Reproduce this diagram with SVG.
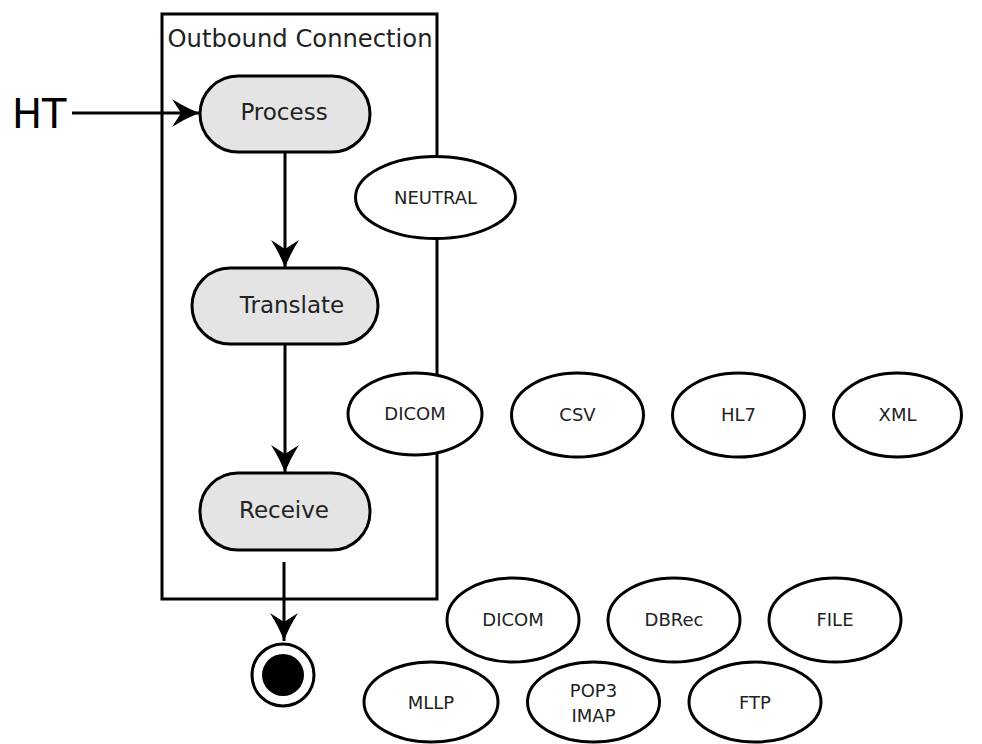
<svg xmlns="http://www.w3.org/2000/svg" width="982" height="744" viewBox="0 0 982 744">
<style>
.pill{fill:#e4e4e4;stroke:#000;stroke-width:3}
.ell{fill:#fff;stroke:#000;stroke-width:3}
.t{font-family:"DejaVu Sans",sans-serif;fill:#222;text-anchor:middle}
.big{font-size:23px}
.small{font-size:18px}
.line{stroke:#000;stroke-width:3;fill:none}
</style>
<defs>
<marker id="ah" markerUnits="userSpaceOnUse" markerWidth="32" markerHeight="32" viewBox="-30 -16 32 32" refX="0" refY="0" orient="auto">
<path d="M0,0 Q-12,-4 -28,-14 L-19,0 L-28,14 Q-12,4 0,0 Z" fill="#000"/>
</marker>
</defs>
<rect id="container" x="162" y="14" width="275" height="585" fill="none" stroke="#000" stroke-width="3"/>
<text class="t" x="300" y="47" font-size="24" textLength="265" lengthAdjust="spacingAndGlyphs">Outbound Connection</text>
<g id="connectors">
<line class="line" x1="72" y1="113" x2="200" y2="113" marker-end="url(#ah)"/>
<line class="line" x1="285" y1="152" x2="285" y2="268" marker-end="url(#ah)"/>
<line class="line" x1="285" y1="344" x2="285" y2="473" marker-end="url(#ah)"/>
<line class="line" x1="284" y1="562" x2="284" y2="641" marker-end="url(#ah)"/>
</g>
<g id="ht"><text x="12" y="128" font-family="DejaVu Sans,sans-serif" font-size="40" fill="#000">HT</text></g>
<g id="process"><rect class="pill" x="200" y="76" width="170" height="76" rx="38"/><text class="t big" x="284" y="120">Process</text></g>
<g id="translate"><rect class="pill" x="192" y="268" width="186" height="76" rx="38"/><text class="t big" x="292" y="313">Translate</text></g>
<g id="receive"><rect class="pill" x="200" y="473" width="170" height="77" rx="38"/><text class="t big" x="284" y="518">Receive</text></g>
<g id="final"><circle cx="283" cy="675" r="31" fill="#fff" stroke="#000" stroke-width="3"/><circle cx="283" cy="675" r="21" fill="#000"/></g>
<g id="neutral"><ellipse class="ell" cx="435.5" cy="197.5" rx="80" ry="41"/><text class="t small" x="435.5" y="204">NEUTRAL</text></g>
<g id="dicom1"><ellipse class="ell" cx="415" cy="414" rx="67" ry="41"/><text class="t small" x="415" y="420">DICOM</text></g>
<g id="csv"><ellipse class="ell" cx="577.5" cy="415" rx="66" ry="42"/><text class="t small" x="577.5" y="421">CSV</text></g>
<g id="hl7"><ellipse class="ell" cx="738.5" cy="415" rx="66" ry="42"/><text class="t small" x="738.5" y="421">HL7</text></g>
<g id="xml"><ellipse class="ell" cx="897.5" cy="415" rx="64" ry="42"/><text class="t small" x="897.5" y="421">XML</text></g>
<g id="dicom2"><ellipse class="ell" cx="513" cy="620" rx="66" ry="42"/><text class="t small" x="513" y="626">DICOM</text></g>
<g id="dbrec"><ellipse class="ell" cx="674" cy="620" rx="66" ry="42"/><text class="t small" x="674" y="626">DBRec</text></g>
<g id="file"><ellipse class="ell" cx="835" cy="620" rx="66" ry="42"/><text class="t small" x="835" y="626">FILE</text></g>
<g id="mllp"><ellipse class="ell" cx="431" cy="702" rx="67" ry="40"/><text class="t small" x="431" y="709">MLLP</text></g>
<g id="pop3"><ellipse class="ell" cx="593.5" cy="702" rx="66" ry="40"/><text class="t small" x="593.5" y="697">POP3</text><text class="t small" x="593.5" y="722">IMAP</text></g>
<g id="ftp"><ellipse class="ell" cx="755" cy="702" rx="66" ry="40"/><text class="t small" x="755" y="709">FTP</text></g>
</svg>
